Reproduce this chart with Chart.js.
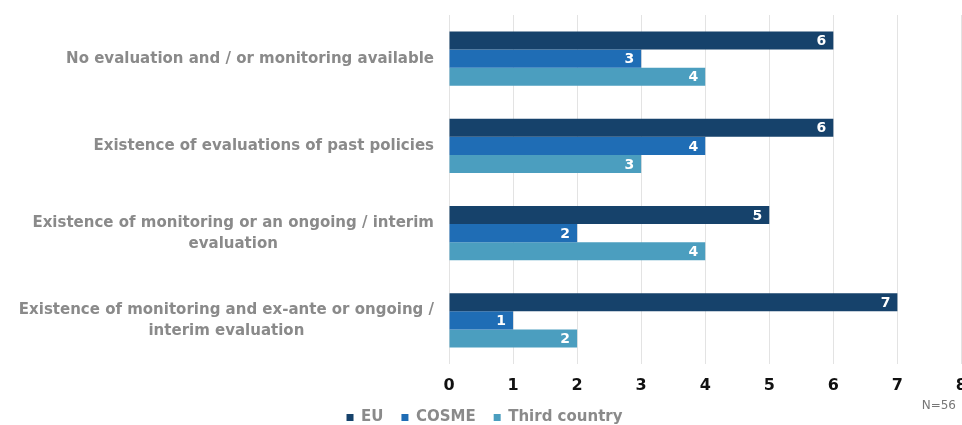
<html>
<head>
<script src="https://cdn.jsdelivr.net/npm/chart.js"></script>
<style>
  html, body { margin: 0; padding: 0; background: #fff; overflow: hidden; }
  #wrap { width: 979px; height: 435px; }
</style>
</head>
<body>
<div id="wrap"><canvas id="evalChart"></canvas></div>
<script>
// categories (one entry per line of the axis label)
const categories = [
  ['No evaluation and / or monitoring available'],
  ['Existence of evaluations of past policies'],
  ['Existence of monitoring or an ongoing / interim', 'evaluation'],
  ['Existence of monitoring and ex-ante or ongoing /', 'interim evaluation']
];
const seriesNames = ['EU', 'COSME', 'Third country'];
const euValues = [6, 6, 5, 7];
const cosmeValues = [3, 4, 2, 1];
const thirdValues = [4, 3, 4, 2];
const xTicks = [0, 1, 2, 3, 4, 5, 6, 7, 8];
const sampleNote = 'N=56';

const colors = ['#16426b', '#1f6db5', '#4b9ebf'];
const labelFont = 'bold 15px "DejaVu Sans"';
const grey = '#8a8a8a';

// wrapped category labels, right-aligned block with centred lines
const categoryLabels = {
  id: 'categoryLabels',
  afterDraw(chart) {
    const ctx = chart.ctx;
    const yScale = chart.scales.y;
    const right = chart.chartArea.left - 15;
    const lineH = 21;
    ctx.save();
    ctx.font = labelFont;
    ctx.fillStyle = grey;
    ctx.textAlign = 'center';
    ctx.textBaseline = 'middle';
    categories.forEach((lines, i) => {
      const y = yScale.getPixelForValue(i);
      const w = Math.max(...lines.map(l => ctx.measureText(l).width));
      const cx = right - w / 2;
      const top = y - (lines.length - 1) * lineH / 2;
      lines.forEach((l, j) => ctx.fillText(l, cx, top + j * lineH));
    });
    // sample size note
    ctx.font = '12px "DejaVu Sans"';
    ctx.fillStyle = '#777';
    ctx.textAlign = 'right';
    ctx.fillText(sampleNote, 956, 406);
    ctx.restore();
  }
};

// value labels inside the end of each bar
const valueLabels = {
  id: 'valueLabels',
  afterDatasetsDraw(chart) {
    const ctx = chart.ctx;
    ctx.save();
    ctx.font = 'bold 14px "DejaVu Sans"';
    ctx.fillStyle = '#fff';
    ctx.textAlign = 'right';
    ctx.textBaseline = 'middle';
    chart.data.datasets.forEach((ds, di) => {
      chart.getDatasetMeta(di).data.forEach((bar, i) => {
        ctx.fillText(ds.data[i], bar.x - 7, bar.y + 1);
      });
    });
    ctx.restore();
  }
};

new Chart(document.getElementById('evalChart'), {
  type: 'bar',
  data: {
    labels: categories.map(c => c.join(' ')),
    datasets: [euValues, cosmeValues, thirdValues].map((d, i) => ({
      label: seriesNames[i],
      data: d,
      backgroundColor: colors[i],
      borderWidth: 0,
      barPercentage: 1,
      categoryPercentage: 0.62
    }))
  },
  options: {
    indexAxis: 'y',
    responsive: true,
    maintainAspectRatio: false,
    animation: false,
    layout: { padding: { left: 0, right: 10, top: 15, bottom: 0 } },
    plugins: {
      tooltip: { enabled: false },
      legend: {
        position: 'bottom',
        labels: {
          usePointStyle: true,
          pointStyle: 'rect',
          boxWidth: 7,
          boxHeight: 7,
          padding: 18,
          color: grey,
          font: { family: 'DejaVu Sans', weight: 'bold', size: 15 }
        }
      }
    },
    scales: {
      x: {
        min: xTicks[0],
        max: xTicks[xTicks.length - 1],
        afterBuildTicks: axis => { axis.ticks = xTicks.map(v => ({ value: v })); },
        afterFit: axis => { axis.height = 28; },
        grid: { color: '#e3e3e3', drawTicks: false },
        border: { display: false },
        ticks: {
          color: '#111',
          padding: 12,
          font: { family: 'DejaVu Sans', weight: 'bold', size: 16 }
        }
      },
      y: {
        grid: { display: false },
        border: { display: false },
        ticks: { display: false },
        afterFit: axis => { axis.width = 449; }
      }
    }
  },
  plugins: [categoryLabels, valueLabels]
});
</script>
</body>
</html>
